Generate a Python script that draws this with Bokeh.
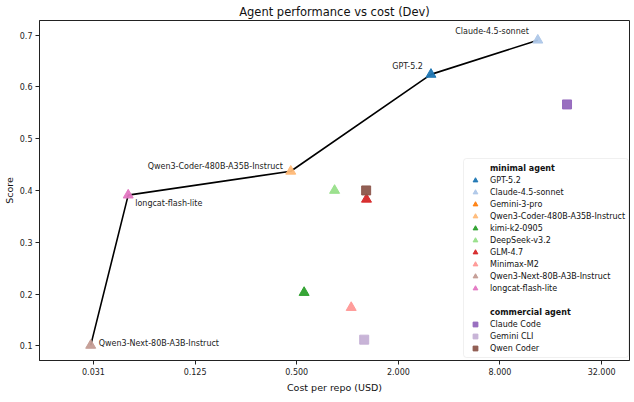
import math
from bokeh.plotting import figure
from bokeh.models import (Range1d, FixedTicker, NumeralTickFormatter, Legend, LegendItem,
                          BoxAnnotation, ColumnDataSource)
from bokeh.core.properties import value
from bokeh.embed import file_html
from bokeh.resources import INLINE

FONT = "DejaVu Sans"
NAN = float("nan")

# ---------------- data ----------------
minimal_models = ["GPT-5.2", "Claude-4.5-sonnet", "Gemini-3-pro",
                  "Qwen3-Coder-480B-A35B-Instruct", "kimi-k2-0905", "DeepSeek-v3.2",
                  "GLM-4.7", "Minimax-M2", "Qwen3-Next-80B-A3B-Instruct", "longcat-flash-lite"]
minimal_cost = [3.12, 13.4, NAN, 0.461, 0.553, 0.838, 1.295, 1.051, 0.0301, 0.0502]
minimal_score = [0.624, 0.690, NAN, 0.437, 0.203, 0.400, 0.383, 0.174, 0.101, 0.391]
minimal_colors = ["#1f77b4", "#aec7e8", "#ff7f0e", "#ffbb78", "#2ca02c", "#98df8a",
                  "#d62728", "#ff9896", "#c49c94", "#e377c2"]

commercial_agents = ["Claude Code", "Gemini CLI", "Qwen Coder"]
commercial_cost = [19.96, 1.255, 1.289]
commercial_score = [0.566, 0.112, 0.400]
commercial_colors = ["#9467bd", "#c5b0d5", "#8c564b"]

frontier = ["Qwen3-Next-80B-A3B-Instruct", "longcat-flash-lite",
            "Qwen3-Coder-480B-A35B-Instruct", "GPT-5.2", "Claude-4.5-sonnet"]
# label placement (style): align, x offset px, y offset px
label_style = {
    "Claude-4.5-sonnet": ("right", -9, -9),
    "GPT-5.2": ("right", -8, -8),
    "Qwen3-Coder-480B-A35B-Instruct": ("right", -8, -5),
    "longcat-flash-lite": ("left", 7, 8),
    "Qwen3-Next-80B-A3B-Instruct": ("left", 8, -2),
}

x_ticks = [0.03125, 0.125, 0.5, 2, 8, 32]
y_ticks = [0.1, 0.2, 0.3, 0.4, 0.5, 0.6, 0.7]

# ---------------- figure ----------------
FW, FH = 590, 340
p = figure(x_axis_type="log", frame_width=FW, frame_height=FH,
           x_range=Range1d(0.01497, 46.8), y_range=Range1d(0.0718, 0.728),
           output_backend="svg", toolbar_location=None,
           title="Agent performance vs cost (Dev)",
           min_border_left=0, min_border_right=2, min_border_top=0, min_border_bottom=0)

p.title.text_font = FONT
p.title.text_font_size = "11.5px"
p.title.text_font_style = "normal"
p.title.align = "center"
p.title.text_color = "#111111"
p.title.standoff = 4

p.xgrid.visible = False
p.ygrid.visible = False
p.outline_line_color = "#222222"
p.outline_line_width = 1
p.outline_line_alpha = 1

for ax in (p.xaxis[0], p.yaxis[0]):
    ax.axis_line_color = "#222222"
    ax.major_tick_line_color = "#222222"
    ax.major_tick_in = 0
    ax.major_tick_out = 4
    ax.minor_tick_line_color = None
    ax.major_label_text_font = FONT
    ax.major_label_text_font_size = "8px"
    ax.major_label_text_color = "#222222"
    ax.axis_label_text_font = FONT
    ax.axis_label_text_font_size = "9.5px"
    ax.axis_label_text_font_style = "normal"
    ax.axis_label_text_color = "#111111"
    ax.major_label_standoff = 3
    ax.axis_label_standoff = 4
p.yaxis[0].axis_label_standoff = 2

p.xaxis.ticker = FixedTicker(ticks=x_ticks)
p.xaxis.formatter = NumeralTickFormatter(format="0.000")
p.yaxis.ticker = FixedTicker(ticks=y_ticks)
p.xaxis.axis_label = "Cost per repo (USD)"
p.yaxis.axis_label = "Score"

# frontier line
idx = {m: i for i, m in enumerate(minimal_models)}
fx = [minimal_cost[idx[m]] for m in frontier]
fy = [minimal_score[idx[m]] for m in frontier]
p.line(fx, fy, line_color="black", line_width=1.6)

# markers
min_items = []
for m, c, s, col in zip(minimal_models, minimal_cost, minimal_score, minimal_colors):
    r = p.scatter([c], [s], marker="triangle", size=10, fill_color=col, line_color=col,
                  fill_alpha=0.95, line_alpha=0.95)
    min_items.append(LegendItem(label=m, renderers=[r]))

com_items = []
for a, c, s, col in zip(commercial_agents, commercial_cost, commercial_score, commercial_colors):
    r = p.scatter([c], [s], marker="square", size=9, fill_color=col, line_color=col,
                  fill_alpha=0.95, line_alpha=0.95)
    com_items.append(LegendItem(label=a, renderers=[r]))

# labels on frontier
for align in ("right", "left"):
    names = [m for m in frontier if label_style[m][0] == align]
    src = ColumnDataSource(dict(
        x=[minimal_cost[idx[m]] for m in names],
        y=[minimal_score[idx[m]] for m in names],
        t=names,
        xo=[label_style[m][1] for m in names],
        yo=[label_style[m][2] for m in names]))
    p.text(x="x", y="y", text="t", x_offset="xo", y_offset="yo", source=src,
           text_align=align, text_baseline="middle", text_font=value(FONT),
           text_font_size=value("8px"), text_color="#222222")

# ---------------- legend ----------------
ROW = 12
rows_top = 198
box = BoxAnnotation(left=FW - 166, right=FW - 1, bottom=3, top=rows_top + 4,
                    left_units="screen", right_units="screen",
                    top_units="screen", bottom_units="screen",
                    fill_color="white", fill_alpha=0.85, line_color="#cccccc",
                    line_width=1, border_radius=3)
p.add_layout(box)

hdr_r = p.scatter([], [], marker="square", size=1, fill_alpha=0, line_alpha=0)
lx = FW - 161


def make_legend(items, k_first, bold=False):
    n = len(items)
    bottom = rows_top - ROW * (k_first + n)
    leg = Legend(items=items, location=(lx, bottom), orientation="vertical",
                 padding=0, spacing=0, margin=0, glyph_width=14, glyph_height=ROW,
                 label_height=ROW, label_standoff=8, label_text_font=FONT,
                 label_text_font_size="8px",
                 label_text_font_style="bold" if bold else "normal",
                 label_text_color="#111111",
                 background_fill_alpha=0, border_line_alpha=0)
    p.add_layout(leg)
    return leg


make_legend([LegendItem(label="minimal agent", renderers=[hdr_r])], 0, bold=True)
make_legend(min_items, 1)
make_legend([LegendItem(label="commercial agent", renderers=[hdr_r])], 12, bold=True)
make_legend(com_items, 13)

open("out.html", "w").write(file_html(p, INLINE))
